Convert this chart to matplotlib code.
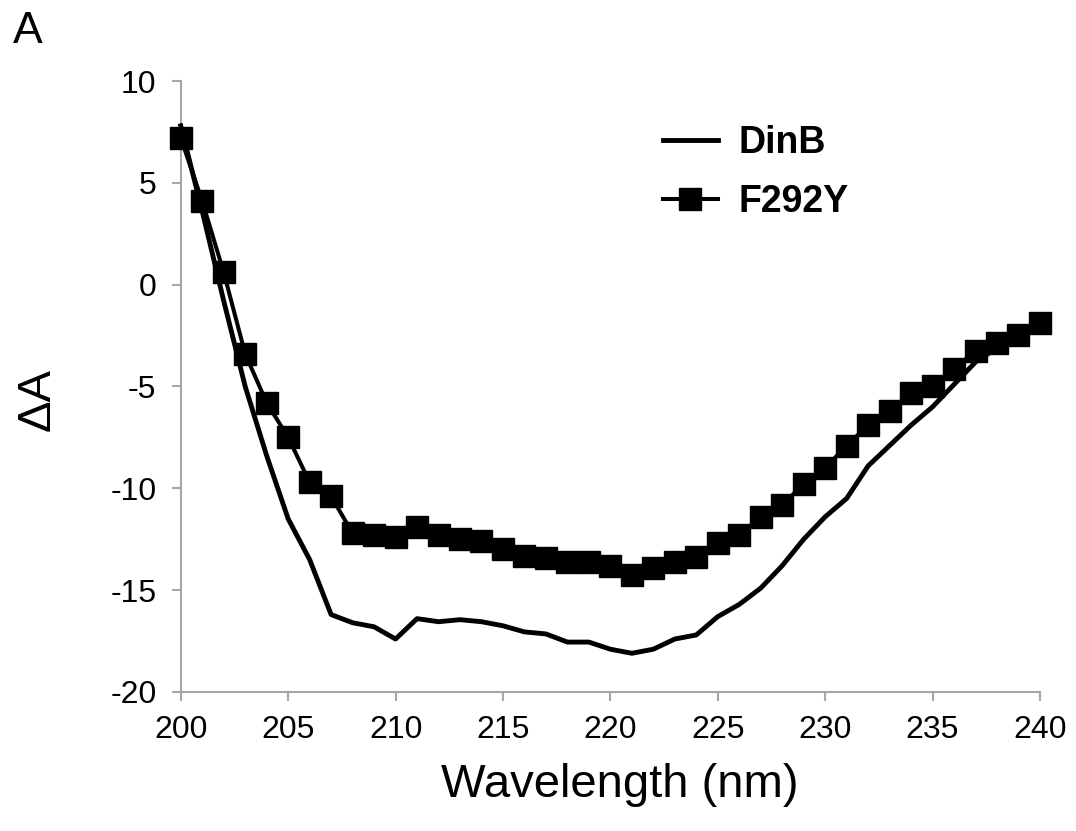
#!/usr/bin/env python3
"""CD difference spectra: DinB vs F292Y."""

import matplotlib
matplotlib.use('Agg')
import matplotlib.pyplot as plt

plt.rcParams['font.family'] = ['Liberation Sans', 'DejaVu Sans']
plt.rcParams['axes.unicode_minus'] = False

wavelength = list(range(200, 241))

dinb = [7.8, 3.6, -0.8, -5.0, -8.4, -11.5, -13.5, -16.2, -16.6, -16.8,
        -17.4, -16.4, -16.55, -16.45, -16.55, -16.75, -17.05, -17.15, -17.55, -17.55,
        -17.9, -18.1, -17.9, -17.4, -17.2, -16.3, -15.7, -14.9, -13.8, -12.5,
        -11.4, -10.5, -8.9, -7.9, -6.9, -6.0, -4.9, -3.8, -3.1, -2.5,
        -1.9]

f292y = [7.2, 4.1, 0.6, -3.4, -5.8, -7.5, -9.7, -10.4, -12.2, -12.3,
         -12.4, -11.9, -12.3, -12.5, -12.6, -13.0, -13.3, -13.4, -13.6, -13.6,
         -13.8, -14.25, -13.9, -13.6, -13.35, -12.7, -12.3, -11.4, -10.8, -9.8,
         -9.0, -7.9, -6.9, -6.2, -5.3, -5.0, -4.15, -3.25, -2.85, -2.45,
         -1.9]

fig = plt.figure(figsize=(10.76, 8.31), dpi=100)
ax = fig.add_axes([0.168, 0.1673, 0.7985, 0.7352])

ax.plot(wavelength, dinb, '-', color='black', lw=3.5, label='DinB',
        clip_on=False, zorder=3, solid_joinstyle='round')
ax.plot(wavelength, f292y, '-s', color='black', lw=2.9, ms=16.5,
        label='F292Y', clip_on=False, zorder=4)

ax.set_xlim(200, 240)
ax.set_ylim(-20, 10)
ax.set_xticks(range(200, 241, 5))
ax.set_yticks(range(-20, 11, 5))

grey = '#a6a6a6'
for side in ('top', 'right'):
    ax.spines[side].set_visible(False)
for side in ('left', 'bottom'):
    ax.spines[side].set_color(grey)
    ax.spines[side].set_linewidth(1.5)
ax.tick_params(direction='out', length=6.5, width=1.5, color=grey,
               labelsize=23)
ax.tick_params(axis='x', pad=10)
ax.tick_params(axis='y', pad=11)

ax.set_xlabel('Wavelength (nm)', fontsize=34)
ax.set_ylabel('ΔA', fontsize=34)
ax.xaxis.set_label_coords(0.511, -0.116)
ax.yaxis.set_label_coords(-0.141, 0.478)

ax.legend(loc='upper left', bbox_to_anchor=(0.5437, 0.952), frameon=False,
          prop={'size': 27, 'weight': 'bold'}, handlelength=1.47,
          handletextpad=0.55, labelspacing=0.6, borderaxespad=0.0)

fig.text(0.012, 0.948, 'A', fontsize=32, va='baseline')

fig.savefig('out.png', dpi=100, facecolor='white')
